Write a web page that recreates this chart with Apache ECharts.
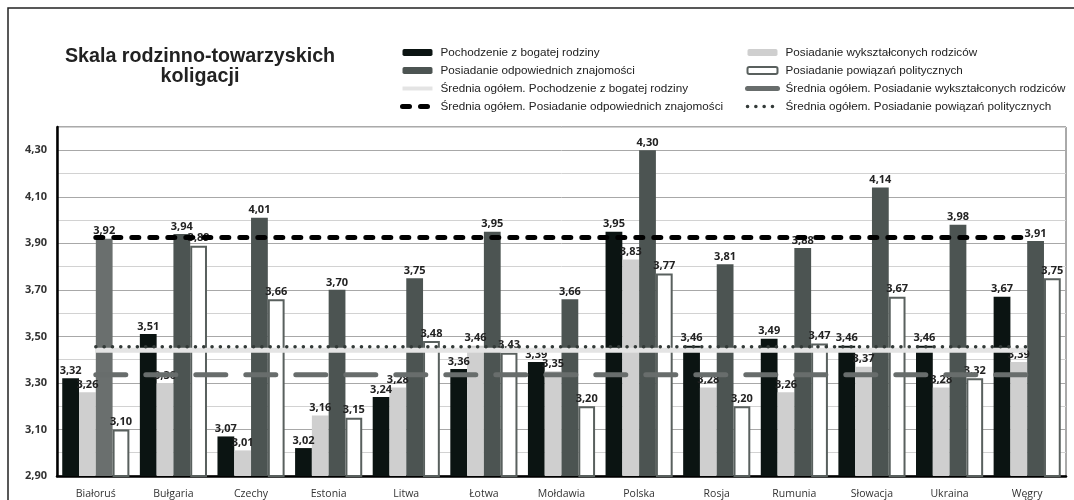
<!DOCTYPE html>
<html>
<head>
<meta charset="utf-8">
<script src="https://cdn.jsdelivr.net/npm/echarts@6/dist/echarts.min.js"></script>
<style>
  html, body { margin: 0; padding: 0; background: #fff; }
  #wykres { width: 1074px; height: 500px; }
</style>
</head>
<body>
<div id="wykres"></div>
<script>
var kraje = ['Białoruś', 'Bułgaria', 'Czechy', 'Estonia', 'Litwa', 'Łotwa', 'Mołdawia', 'Polska', 'Rosja', 'Rumunia', 'Słowacja', 'Ukraina', 'Węgry'];

var bogataRodzina = [3.32, 3.51, 3.07, 3.02, 3.24, 3.36, 3.39, 3.95, 3.46, 3.49, 3.46, 3.46, 3.67];
var wyksztRodzice = [3.26, 3.30, 3.01, 3.16, 3.28, 3.46, 3.35, 3.83, 3.28, 3.26, 3.37, 3.28, 3.39];
var znajomosci = [3.92, 3.94, 4.01, 3.70, 3.75, 3.95, 3.66, 4.30, 3.81, 3.88, 4.14, 3.98, 3.91];
var powiazania = [3.10, 3.89, 3.66, 3.15, 3.48, 3.43, 3.20, 3.77, 3.20, 3.47, 3.67, 3.32, 3.75];

// srednie ogolem (stale dla wszystkich krajow)
var srBogata = [3.44, 3.44, 3.44, 3.44, 3.44, 3.44, 3.44, 3.44, 3.44, 3.44, 3.44, 3.44, 3.44];
var srWykszt = [3.335, 3.335, 3.335, 3.335, 3.335, 3.335, 3.335, 3.335, 3.335, 3.335, 3.335, 3.335, 3.335];
var srZnajom = [3.925, 3.925, 3.925, 3.925, 3.925, 3.925, 3.925, 3.925, 3.925, 3.925, 3.925, 3.925, 3.925];
var srPowiaz = [3.455, 3.455, 3.455, 3.455, 3.455, 3.455, 3.455, 3.455, 3.455, 3.455, 3.455, 3.455, 3.455];

var nazwy = [
    'Pochodzenie z bogatej rodziny',
    'Posiadanie wykształconych rodziców',
    'Posiadanie odpowiednich znajomości',
    'Posiadanie powiązań politycznych',
    'Średnia ogółem. Pochodzenie z bogatej rodziny',
    'Średnia ogółem. Posiadanie wykształconych rodziców',
    'Średnia ogółem. Posiadanie odpowiednich znajomości',
    'Średnia ogółem. Posiadanie powiązań politycznych'
];

function przecinek(v) {
    return Number(v).toFixed(2).replace('.', ',');
}

var etykieta = {
    show: true,
    position: 'top',
    distance: 2,
    fontFamily: 'Open Sans',
    fontWeight: 'bold',
    fontSize: 11,
    color: '#222',
    formatter: function (p) { return przecinek(p.value); }
};

var myChart = echarts.init(document.getElementById('wykres'));

var series_grafico = [];

series_grafico.push({
    name: nazwy[0], type: 'bar', data: bogataRodzina,
    barGap: 0, barCategoryGap: '13.5%',
    itemStyle: { color: '#0b1412' },
    label: etykieta
});
series_grafico.push({
    name: nazwy[1], type: 'bar', data: wyksztRodzice,
    itemStyle: { color: '#cfcfcf' },
    label: etykieta
});
series_grafico.push({
    name: nazwy[2], type: 'bar',
    // pierwszy slupek (Białoruś) jest na oryginale jasniejszy
    data: znajomosci.map(function (v, i) {
        return i === 0 ? { value: v, itemStyle: { color: '#6a6f6e' } } : v;
    }),
    itemStyle: { color: '#4c5452' },
    label: etykieta
});
series_grafico.push({
    name: nazwy[3], type: 'bar', data: powiazania,
    itemStyle: { color: '#ffffff', borderColor: '#59605e', borderWidth: 2 },
    label: etykieta
});

series_grafico.push({
    name: nazwy[4], type: 'line', data: srBogata, symbol: 'none', z: 5,
    itemStyle: { color: '#e4e4e4' },
    lineStyle: { color: '#e4e4e4', width: 5 }
});
series_grafico.push({
    name: nazwy[5], type: 'line', data: srWykszt, symbol: 'none', z: 5,
    itemStyle: { color: '#686d6c' },
    lineStyle: { color: '#686d6c', width: 5, type: [30, 20], cap: 'round' }
});
series_grafico.push({
    name: nazwy[6], type: 'line', data: srZnajom, symbol: 'none', z: 6,
    itemStyle: { color: '#000' },
    lineStyle: { color: '#000', width: 5, type: [7, 11], cap: 'round' }
});
series_grafico.push({
    name: nazwy[7], type: 'line', data: srPowiaz, symbol: 'none', z: 6,
    itemStyle: { color: '#333a38' },
    lineStyle: { color: '#333a38', width: 3.5, type: [0.1, 8.2], cap: 'round' }
});

// pozycje legendy dla linii: bez kropki na srodku
function legLinia(nazwa, szer) {
    return { name: nazwa, itemStyle: { opacity: 0 }, lineStyle: { width: szer } };
}

var legendaStyl = {
    orient: 'vertical',
    padding: 0,
    itemWidth: 30,
    itemHeight: 7,
    itemGap: 5,
    textStyle: { fontFamily: 'Liberation Sans', fontSize: 11.7, color: '#222', lineHeight: 13, padding: [0, 0, 0, 3] }
};

var option = {
    animation: false,
    backgroundColor: '#fff',
    title: {
        text: 'Skala rodzinno-towarzyskich\nkoligacji',
        left: 200,
        top: 47,
        padding: 0,
        textAlign: 'center',
        textStyle: { fontFamily: 'Liberation Sans', fontSize: 19.7, fontWeight: 'bold', color: '#222', lineHeight: 20 }
    },
    legend: [
        Object.assign({ left: 400, top: 46, data: [nazwy[0], nazwy[2], legLinia(nazwy[4], 4), legLinia(nazwy[6], 5)] }, legendaStyl),
        Object.assign({ left: 745, top: 46, data: [nazwy[1], nazwy[3], legLinia(nazwy[5], 5), legLinia(nazwy[7], 3.5)] }, legendaStyl)
    ],
    graphic: [{
        type: 'rect',
        shape: { x: 8, y: 8, width: 1200, height: 700 },
        style: { fill: 'none', stroke: '#222', lineWidth: 1.5 },
        silent: true
    }],
    grid: {
        left: 57, right: 8, top: 127, bottom: 24,
        show: true, borderColor: '#555', borderWidth: 1
    },
    xAxis: {
        type: 'category',
        data: kraje,
        axisTick: { show: false },
        axisLine: { lineStyle: { color: '#000', width: 2.5 } },
        axisLabel: { fontFamily: 'Open Sans', fontSize: 10.5, color: '#333', margin: 13, interval: 0 }
    },
    yAxis: {
        type: 'value',
        min: 2.9,
        max: 4.4,
        interval: 0.1,
        axisLine: { show: true, lineStyle: { color: '#000', width: 2.5 } },
        axisTick: { show: false },
        axisLabel: {
            fontFamily: 'Open Sans', fontWeight: 'bold', fontSize: 11, color: '#333', margin: 10,
            formatter: function (v) {
                var k = Math.round((v - 2.9) * 10);
                if (k % 2 !== 0 || k >= 15) return '';
                return przecinek(v);
            }
        },
        splitLine: { lineStyle: { color: ['#a8a8a8', '#d2d2d2'], width: 1 } }
    },
    series: series_grafico
};

myChart.setOption(option);
</script>
</body>
</html>
